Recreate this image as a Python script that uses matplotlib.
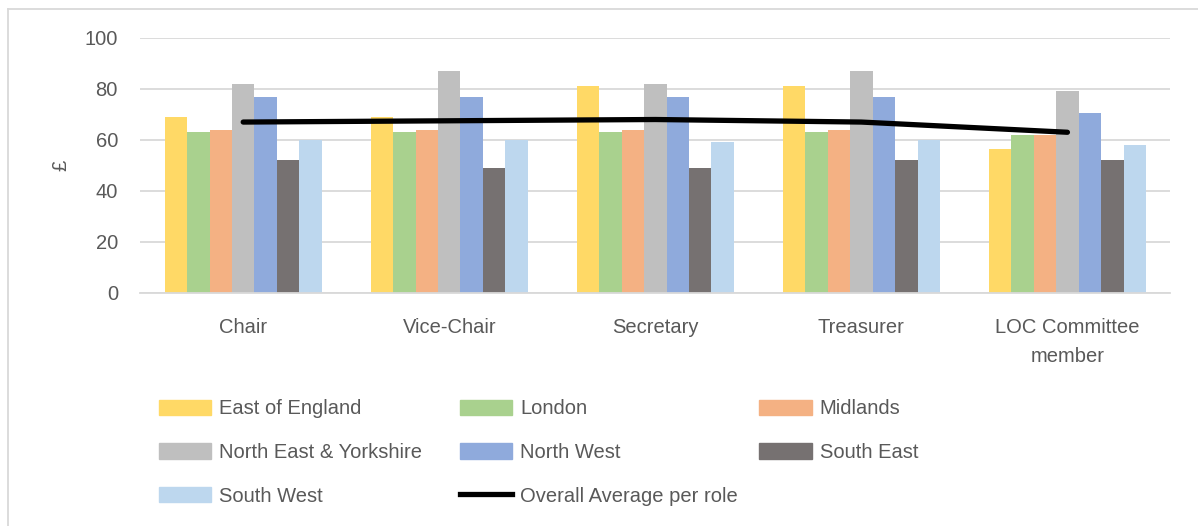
import matplotlib
matplotlib.use('Agg')
import matplotlib.pyplot as plt
import numpy as np
from matplotlib.lines import Line2D
from matplotlib.patches import Patch

roles = ['Chair', 'Vice-Chair', 'Secretary', 'Treasurer', 'LOC Committee\nmember']
regions = ['East of England', 'London', 'Midlands', 'North East & Yorkshire',
           'North West', 'South East', 'South West']
colours = ['#FFD966', '#A9D18E', '#F4B183', '#BFBFBF', '#8FAADC', '#767171', '#BDD7EE']

east_of_england = [69, 69, 81, 81, 56.5]
london = [63, 63, 63, 63, 62]
midlands = [64, 64, 64, 64, 62]
north_east_yorks = [82, 87, 82, 87, 79]
north_west = [77, 77, 77, 77, 70.5]
south_east = [52, 49, 49, 52, 52]
south_west = [60, 60, 59, 60, 58]
overall_avg = [67, 67.5, 68, 67, 63]

series = [east_of_england, london, midlands, north_east_yorks,
          north_west, south_east, south_west]

plt.rcParams['font.family'] = ['Liberation Sans', 'DejaVu Sans']
txtcol = '#595959'
fs = 14.5

fig = plt.figure(figsize=(11.98, 5.26), dpi=100)
ax = fig.add_axes([0.117, 0.443, 0.86, 0.485])

x = np.arange(len(roles))
w = 0.109
for i, (vals, c) in enumerate(zip(series, colours)):
    ax.bar(x + (i - 3) * w, vals, w, color=c, zorder=2)
ax.plot(x, overall_avg, color='black', linewidth=3.8, solid_capstyle='round', zorder=3)

ax.set_xlim(-0.5, 4.5)
ax.set_ylim(0, 100)
ax.set_yticks(range(0, 101, 20))
ax.set_xticks(x)
ax.set_xticklabels(roles, linespacing=1.65)
ax.grid(axis='y', color='#D9D9D9', linewidth=1.3, zorder=0)
ax.set_axisbelow(True)
for s in ['top', 'right', 'left']:
    ax.spines[s].set_visible(False)
ax.spines['bottom'].set_color('#D9D9D9')
ax.spines['bottom'].set_linewidth(1.3)
ax.tick_params(length=0, labelsize=fs, colors=txtcol)
ax.tick_params(axis='x', pad=18)
ax.tick_params(axis='y', pad=16)
ax.set_ylabel('£', fontsize=fs, color=txtcol, labelpad=10)

# legend built as three columns like the Excel one
handles = [Patch(color=c) for c in colours]
line_h = Line2D([], [], color='black', linewidth=3.8)
cols = [
    ([handles[0], handles[3], handles[6]], [regions[0], regions[3], regions[6]], 0.126),
    ([handles[1], handles[4], line_h], [regions[1], regions[4], 'Overall Average per role'], 0.377),
    ([handles[2], handles[5]], [regions[2], regions[5]], 0.627),
]
for h, l, xpos in cols:
    fig.legend(h, l, loc='upper left', bbox_to_anchor=(xpos, 0.256), frameon=False,
               fontsize=fs, labelcolor=txtcol, handlelength=2.6, handleheight=0.8,
               handletextpad=0.4, labelspacing=1.22, borderaxespad=0)

# chart border (left and top visible in the crop)
fig.add_artist(Line2D([0.0067, 0.0067], [0, 0.983], color='#D9D9D9', linewidth=1.3))
fig.add_artist(Line2D([0.0067, 1.0], [0.983, 0.983], color='#D9D9D9', linewidth=1.3))

fig.savefig('out.png', dpi=100)
